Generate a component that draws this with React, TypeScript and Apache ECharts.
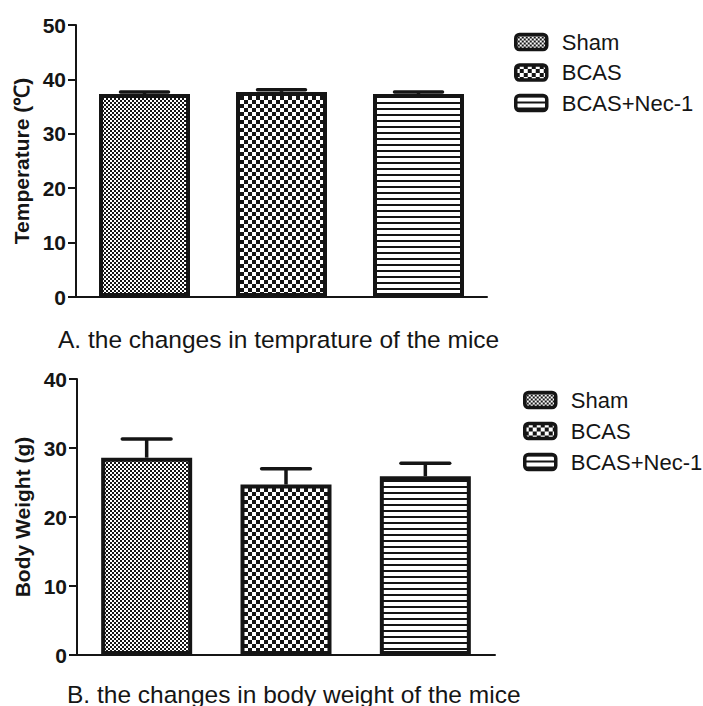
import React, { useEffect, useRef } from 'react';
import * as echarts from 'echarts';

// ---- data ----
const groups = ['Sham', 'BCAS', 'BCAS+Nec-1'];
const tempValues = [37.3, 37.7, 37.3];
const tempErrors = [0.4, 0.4, 0.4];
const weightValues = [28.6, 24.7, 25.9];
const weightErrors = [2.7, 2.3, 1.9];
const tempAxis = { min: 0, max: 50, interval: 10 };
const weightAxis = { min: 0, max: 40, interval: 10 };
const tempTitle = 'Temperature (℃)';
const weightTitle = 'Body Weight (g)';
const captionA = 'A. the changes in temprature of the mice';
const captionB = 'B. the changes in body weight of the mice';

const FONT = '"Liberation Sans", Arial, sans-serif';
const INK = '#151515';

function makePattern(kind: string) {
  const c = document.createElement('canvas');
  let w = 4, h = 4;
  if (kind === 'coarse') { w = 8; h = 8; }
  if (kind === 'lines') { w = 6; h = 6; }
  c.width = w; c.height = h;
  const ctx = c.getContext('2d')!;
  ctx.fillStyle = '#ffffff';
  ctx.fillRect(0, 0, w, h);
  ctx.fillStyle = INK;
  if (kind === 'fine') {
    ctx.fillRect(0, 0, 2, 2);
    ctx.fillRect(2, 2, 2, 2);
  } else if (kind === 'coarse') {
    ctx.fillRect(0, 0, 4, 4);
    ctx.fillRect(4, 4, 4, 4);
  } else {
    ctx.fillRect(0, 0, 6, 2);
  }
  return { image: c, repeat: 'repeat', imageWidth: w, imageHeight: h } as any;
}

function buildOption() {
  const patterns = [makePattern('fine'), makePattern('coarse'), makePattern('lines')];

  const errorRender = (params: any, api: any) => {
    const x = api.value(0);
    const v = api.value(1);
    const e = api.value(2);
    const p0 = api.coord([x, v]);
    const p1 = api.coord([x, v + e]);
    const w = api.size([1, 0])[0] * 0.35;
    return {
      type: 'group',
      children: [
        { type: 'line', shape: { x1: p0[0], y1: p0[1], x2: p1[0], y2: p1[1] }, style: { stroke: INK, lineWidth: 3.5 } },
        { type: 'line', shape: { x1: p1[0] - w / 2, y1: p1[1], x2: p1[0] + w / 2, y2: p1[1] }, style: { stroke: INK, lineWidth: 3.5, lineCap: 'round' } },
      ],
    };
  };

  const panel = (k: number, values: number[], errors: number[]) => [
    ...groups.map((g, i) => ({
      type: 'bar',
      name: g,
      xAxisIndex: k,
      yAxisIndex: k,
      data: groups.map((_, j) => (j === i ? values[i] : '-')),
      barWidth: 91,
      barGap: '-100%',
      itemStyle: { color: patterns[i], borderColor: INK, borderWidth: 4 },
      emphasis: { disabled: true },
      z: 2,
    })),
    {
      type: 'custom',
      xAxisIndex: k,
      yAxisIndex: k,
      data: values.map((v, i) => [i, v, errors[i]]),
      encode: { x: 0, y: 1 },
      renderItem: errorRender,
      silent: true,
      z: 3,
    },
  ];

  const xAxis = (k: number) => ({
    type: 'category',
    gridIndex: k,
    data: groups,
    axisLine: { lineStyle: { color: INK, width: 2 } },
    axisTick: { alignWithLabel: true, length: 8, interval: (i: number) => i === 1, lineStyle: { color: INK, width: 2 } },
    axisLabel: { show: false },
    splitLine: { show: false },
  });

  const yAxis = (k: number, ax: any, name: string) => ({
    type: 'value',
    gridIndex: k,
    min: ax.min,
    max: ax.max,
    interval: ax.interval,
    name,
    nameLocation: 'middle',
    nameGap: 42,
    nameTextStyle: { fontFamily: FONT, fontSize: 21, fontWeight: 'bold', color: INK },
    axisLine: { show: true, lineStyle: { color: INK, width: 2 } },
    axisTick: { show: true, length: 8, lineStyle: { color: INK, width: 2 } },
    axisLabel: { fontFamily: FONT, fontSize: 21, fontWeight: 'bold', color: INK, margin: 10 },
    splitLine: { show: false },
  });

  const legend = (left: number, top: number, gap: number, pad: number) => ({
    data: groups,
    left,
    top,
    orient: 'vertical',
    icon: 'roundRect',
    itemWidth: 31,
    itemHeight: 15,
    itemGap: gap,
    selectedMode: false,
    itemStyle: { borderColor: INK, borderWidth: 3.5 },
    textStyle: { fontFamily: FONT, fontSize: 22, color: INK, lineHeight: 22, padding: [0, 0, 0, pad] },
  });

  return {
    animation: false,
    backgroundColor: '#ffffff',
    grid: [
      { left: 76, top: 25, width: 411, height: 272 },
      { left: 77, top: 379, width: 418, height: 276 },
    ],
    xAxis: [xAxis(0), xAxis(1)],
    yAxis: [yAxis(0, tempAxis, tempTitle), yAxis(1, weightAxis, weightTitle)],
    legend: [legend(509, 26, 8.5, 10), legend(518, 384, 9, 10)],
    series: [...panel(0, tempValues, tempErrors), ...panel(1, weightValues, weightErrors)],
    graphic: [
      { type: 'text', x: 58, y: 339, style: { text: captionA, fontFamily: FONT, fontSize: 24.5, fill: INK, align: 'left', verticalAlign: 'middle' } },
      { type: 'text', x: 67, y: 694, style: { text: captionB, fontFamily: FONT, fontSize: 24.5, fill: INK, align: 'left', verticalAlign: 'middle' } },
    ],
  };
}

export default function App() {
  const ref = useRef<HTMLDivElement>(null);
  useEffect(() => {
    if (!ref.current) return;
    const chart = echarts.init(ref.current, null, { renderer: 'svg', width: 703, height: 706 });
    chart.setOption(buildOption() as any);
    return () => chart.dispose();
  }, []);
  return (
    <div
      ref={ref}
      style={{ position: 'absolute', left: 0, top: 0, width: 703, height: 706, background: '#fff' }}
    />
  );
}
